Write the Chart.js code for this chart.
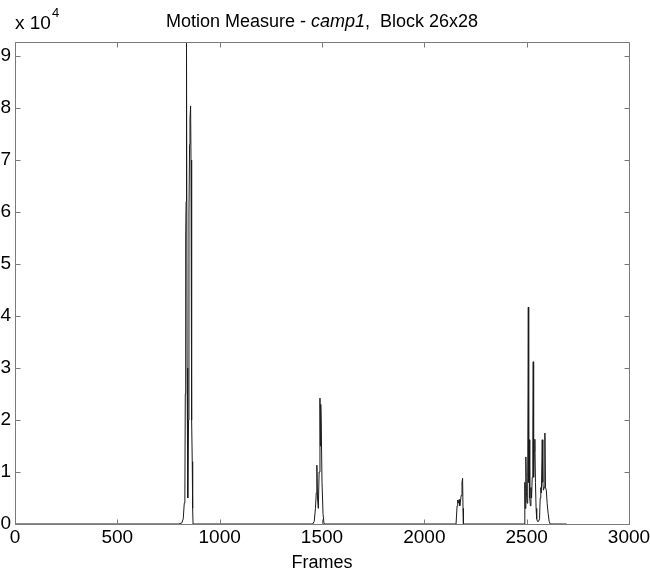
<!DOCTYPE html>
<html><head><meta charset="utf-8">
<script src="https://cdn.jsdelivr.net/npm/chart.js@4"></script>
<style>html,body{margin:0;padding:0;background:#fff}#wrap{width:650px;height:574px}</style>
</head><body><div id="wrap"><canvas id="c" width="650" height="574"></canvas></div>
<script>
// Frame numbers and motion measure values
const frames = [
  0, 800, 815, 822, 827, 830, 832, 834, 836, 837, 839, 841, 843, 845, 848, 850, 853, 855, 858, 860, 862, 864, 866, 868, 870,
  1455, 1462, 1468, 1472, 1475, 1478, 1482, 1486, 1490, 1492, 1494, 1496, 1500, 1505, 1510,
  2155, 2160, 2163, 2166, 2170, 2173, 2176, 2180, 2184, 2187, 2189, 2191,
  2488, 2491, 2493, 2496, 2499, 2502, 2505, 2508, 2510, 2513, 2515, 2518, 2521, 2524, 2527, 2530, 2532, 2534, 2537, 2540, 2543, 2546, 2549, 2553, 2558, 2563, 2566, 2569, 2572, 2576, 2579, 2582, 2585, 2589, 2592, 2596, 2600, 2605, 2610, 2615, 2695
];
const motion = [
  0, 0, 200, 1000, 4000, 5000, 25000, 55000, 62000, 69000, 92700, 30000, 10000, 5000, 20000, 60000, 73000, 78000, 80400, 70000, 40000, 20000, 12000, 3000, 0,
  0, 500, 3000, 6000, 11300, 5000, 3000, 10000, 24200, 15000, 23000, 20000, 8000, 2000, 0,
  0, 3500, 4600, 4000, 4700, 3500, 4200, 5500, 8000, 8800, 3000, 0,
  0, 8000, 3000, 12900, 6000, 4000, 9000, 41700, 8000, 16200, 5000, 3500, 7000, 5000, 9000, 16000, 31200, 9000, 14000, 16300, 8000, 3000, 1000, 500, 500, 1000, 5000, 7000, 6000, 16200, 8000, 6500, 7000, 17500, 7000, 6500, 4000, 2000, 500, 0, 0
];
const xTickValues = [0, 500, 1000, 1500, 2000, 2500, 3000];
const yTickValues = [0, 10000, 20000, 30000, 40000, 50000, 60000, 70000, 80000, 90000];
const yExponent = 4;
const xMax = 3000;
const yMax = 92700;

const FONT = '"Liberation Sans", Arial, sans-serif';
const FS = 18;
const TFS = 19;
const AXIS_COLOR = '#7a7a7a';

const matlabBox = {
  id: 'matlabBox',
  afterDraw(chart) {
    const ctx = chart.ctx;
    const a = chart.chartArea;
    const xs = chart.scales.x, ys = chart.scales.y;
    ctx.save();
    ctx.strokeStyle = AXIS_COLOR;
    ctx.lineWidth = 1;
    const L = Math.round(a.left) + 0.5, R = Math.round(a.right) + 0.5;
    const T = Math.round(a.top) + 0.5, B = Math.round(a.bottom) + 0.5;
    ctx.beginPath();
    ctx.rect(L, T, R - L, B - T);
    const tl = 5;
    xTickValues.forEach(v => {
      const px = Math.round(xs.getPixelForValue(v)) + 0.5;
      ctx.moveTo(px, B); ctx.lineTo(px, B - tl);
      ctx.moveTo(px, T); ctx.lineTo(px, T + tl);
    });
    yTickValues.forEach(v => {
      const py = Math.round(ys.getPixelForValue(v)) + 0.5;
      ctx.moveTo(L, py); ctx.lineTo(L + tl, py);
      ctx.moveTo(R, py); ctx.lineTo(R - tl, py);
    });
    ctx.stroke();
    // exponent label
    ctx.fillStyle = '#000';
    ctx.textBaseline = 'alphabetic';
    ctx.textAlign = 'left';
    ctx.font = TFS + 'px ' + FONT;
    const base = 'x 10';
    ctx.fillText(base, 15, 29);
    const w = ctx.measureText(base).width;
    ctx.font = '13px ' + FONT;
    ctx.fillText(String(yExponent), 15 + w + 1, 17);
    // title with italic part
    const parts = [
      ['Motion Measure - ', 'normal'],
      ['camp1', 'italic'],
      [',  Block 26x28', 'normal']
    ];
    let total = 0;
    parts.forEach(p => { ctx.font = p[1] + ' ' + FS + 'px ' + FONT; total += ctx.measureText(p[0]).width; });
    let x = (a.left + a.right) / 2 - total / 2;
    parts.forEach(p => {
      ctx.font = p[1] + ' ' + FS + 'px ' + FONT;
      ctx.fillText(p[0], x, 27);
      x += ctx.measureText(p[0]).width;
    });
    ctx.restore();
  }
};

new Chart(document.getElementById('c'), {
  type: 'line',
  data: {
    datasets: [{
      data: frames.map((f, i) => ({ x: f, y: motion[i] })),
      borderColor: '#1a1a1a',
      borderWidth: 1,
      pointRadius: 0,
      tension: 0,
      fill: false
    }]
  },
  options: {
    responsive: false,
    animation: false,
    events: [],
    layout: { padding: { top: 42, right: 21, left: 0, bottom: 0 } },
    plugins: { legend: { display: false }, tooltip: { enabled: false }, title: { display: false } },
    scales: {
      x: {
        type: 'linear', min: 0, max: xMax,
        afterBuildTicks: s => { s.ticks = xTickValues.map(v => ({ value: v })); },
        afterFit: s => { s.height = 50; s.paddingLeft = 0; s.paddingRight = 0; },
        grid: { display: false, drawTicks: false },
        border: { display: false },
        ticks: { color: '#000', font: { family: FONT, size: TFS }, padding: 2, maxRotation: 0, autoSkip: false, callback: v => String(v) },
        title: { display: true, text: 'Frames', color: '#000', font: { family: FONT, size: FS }, padding: { top: 0, bottom: 0 } }
      },
      y: {
        type: 'linear', min: 0, max: yMax,
        afterBuildTicks: s => { s.ticks = yTickValues.map(v => ({ value: v })); },
        afterFit: s => { s.width = 15; s.paddingTop = 0; s.paddingBottom = 0; },
        grid: { display: false, drawTicks: false },
        border: { display: false },
        ticks: { color: '#000', font: { family: FONT, size: TFS }, padding: 4, autoSkip: false, callback: v => String(v / Math.pow(10, yExponent)) }
      }
    }
  },
  plugins: [matlabBox]
});
</script>
</body></html>
